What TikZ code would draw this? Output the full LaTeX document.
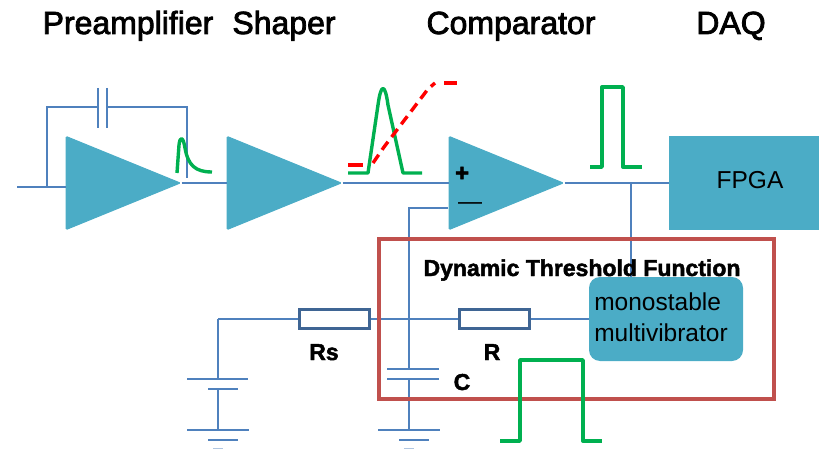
\documentclass[tikz,border=0pt]{standalone}
\usepackage{fontspec}
\setmainfont{Liberation Sans}
\newfontfamily\headfont[FakeBold=2.5]{Liberation Sans}
\newfontfamily\tagfont[FakeBold=2]{Liberation Sans Bold}
\usetikzlibrary{shapes.geometric,positioning}
\definecolor{ampteal}{HTML}{4BACC6}
\definecolor{wireblue}{HTML}{4F81BD}
\definecolor{resblue}{HTML}{3F6594}
\definecolor{boxred}{HTML}{C0504D}
\definecolor{pulsegreen}{HTML}{00B050}
\begin{document}
\begin{tikzpicture}[
    x=1pt, y=-1pt,
    amp/.style={isosceles triangle, isosceles triangle stretches, shape border rotate=0, fill=ampteal, draw=ampteal, line width=1pt, rounded corners=1pt, inner sep=0pt, minimum width=93pt, minimum height=114pt, anchor=apex},
    resistor/.style={draw=resblue, fill=white, line width=2.8pt, minimum width=70pt, minimum height=19pt, inner sep=0pt},
    wire/.style={draw=wireblue, line width=1.8pt},
    plate/.style={draw=wireblue, line width=2pt},
    pulse/.style={draw=pulsegreen, line width=3.4pt, line join=round},
    shaped/.style={draw=red, line width=3.4pt},
    heading/.style={font=\fontsize{32}{34}\headfont, inner sep=0pt, anchor=base},
    tag/.style={font=\fontsize{23}{26}\tagfont, inner sep=0pt, anchor=base},
    body/.style={font=\fontsize{24.5}{31}\selectfont, inner sep=0pt}
]
\useasboundingbox (0,0) rectangle (819,449);

\node[heading] (preamp) at (128,34) {Preamplifier};
\node[heading] (shaper) at (284,34) {Shaper};
\node[heading] (comparator) at (511,34) {Comparator};
\node[heading] (daq) at (731,34) {DAQ};

\node[amp] (amp1) at (181.5,183) {};
\node[amp] (amp2) at (342.5,183) {};
\node[amp] (amp3) at (564.5,183) {};
\node[fill=ampteal, minimum width=150pt, minimum height=94pt, inner sep=0pt] (fpga) at (744,183) {};
\node[body] (fpgatext) at (750,180) {FPGA};
\node[resistor] (rs) at (334.5,319) {};
\node[resistor] (r) at (494.5,319) {};
\node[fill=ampteal, rounded corners=11pt, minimum width=154pt, minimum height=84pt, inner sep=0pt] (mono) at (666,319) {};

\coordinate (in) at (17,187);
\coordinate (fbin) at (47,187);
\coordinate (fbleft) at (47,107);
\coordinate (capl) at (98,107);
\coordinate (capr) at (107,107);
\coordinate (fbright) at (187,107);
\coordinate (fbout) at (187,178);
\coordinate (ampin) at (66,187);
\coordinate (neg) at (448,208);
\coordinate (negturn) at (409,208);
\coordinate (captop) at (409,369);
\coordinate (capbot) at (409,379);
\coordinate (gndc) at (409,430);
\coordinate (tap) at (631,183);
\coordinate (batturn) at (218,319);
\coordinate (battop) at (218,379);
\coordinate (batbot) at (218,389);
\coordinate (gndb) at (218,430);

\draw[wire] (in) -- (ampin);
\draw[wire] (fbin) -- (fbleft) -- (capl);
\draw[wire] (capr) -- (fbright) -- (fbout);
\draw[wire] (amp1.apex) -- (amp2.west |- amp1.apex);
\draw[wire] (amp2.apex) -- (amp3.west |- amp2.apex);
\draw[wire] (amp3.apex) -- (fpga.west);
\draw[wire] (tap) -- (tap |- mono.north);
\draw[wire] (neg) -- (negturn) -- (captop);
\draw[wire] (capbot) -- (gndc);
\draw[wire] (batturn) -- (rs.west);
\draw[wire] (batturn) -- (battop);
\draw[wire] (batbot) -- (gndb);
\draw[wire] (rs.east) -- (r.west);
\draw[wire] (r.east) -- (mono.west);

\draw[plate] (98,88) -- (98,128);
\draw[plate] (107,88) -- (107,128);
\draw[plate] (387,369) -- (439,369);
\draw[plate] (387,379) -- (439,379);
\draw[plate] (187,379) -- (248,379);
\draw[plate] (208,389) -- (238,389);
\foreach \gx in {218,409} {
    \draw[plate] (\gx-31,430) -- (\gx+31,430);
    \draw[plate] (\gx-10,440) -- (\gx+20,440);
    \draw[plate, wireblue!45] (\gx-5,448.5) -- (\gx+5,448.5);
}

\draw[draw=boxred, line width=4pt] (379,239) rectangle (774,399);
\node[tag] (dtf) at (582,276) {Dynamic Threshold Function};
\node[tag] (rslabel) at (324,360) {Rs};
\node[tag] (rlabel) at (492,360) {R};
\node[tag] (clabel) at (462,390) {C};
\node[body, align=left] (monotext) at (661,317) {monostable\\multivibrator};
\node[font=\fontsize{24}{26}\tagfont, inner sep=0pt] (plus) at (462,174) {+};
\node[font=\fontsize{24}{26}\selectfont, inner sep=0pt] (minus) at (470,206) {—};

\draw[pulse] (177,173) -- (179,145) .. controls (180,136) and (183,136) .. (185,148) .. controls (188,165) and (195,172) .. (212,172);
\draw[pulse] (348,173) -- (368,173) -- (378,105) .. controls (381,83) and (385,83) .. (388,105) -- (403,173) -- (422,173);
\draw[shaped] (348,165) -- (363,165);
\draw[shaped, dash pattern=on 10pt off 6pt] (373,163) -- (384,147) -- (428,89) -- (435,83);
\draw[shaped] (444,83) -- (457,83);
\draw[pulse] (590,167) -- (602,167) -- (602,87) -- (623,87) -- (623,167) -- (642,167);
\draw[pulse] (500,441) -- (520,441) -- (520,360) -- (583,360) -- (583,441) -- (602,441);
\end{tikzpicture}
\end{document}
